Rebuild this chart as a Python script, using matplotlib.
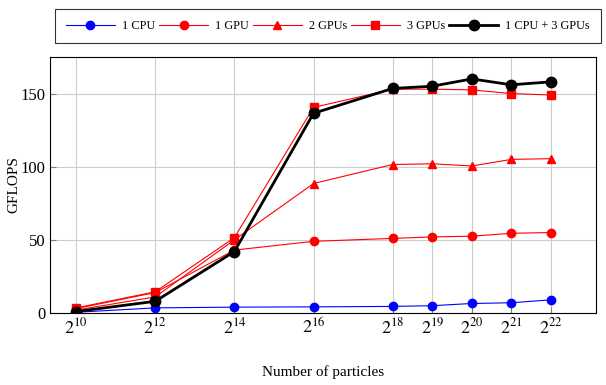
import numpy as np
import matplotlib.pyplot as plt

plt.rcParams['font.family'] = ['Liberation Serif', 'DejaVu Serif']
plt.rcParams['mathtext.fontset'] = 'stix'

# - DATA - #
exps = [10, 12, 14, 16, 18, 19, 20, 21, 22]
cpu1 = [0.5, 3.5, 4.0, 4.2, 4.5, 5.0, 6.5, 7.0, 9.0]
gpu1 = [3.0, 14.0, 43.0, 49.0, 51.0, 52.0, 52.5, 54.5, 55.0]
gpu2 = [2.0, 11.0, 50.0, 88.5, 101.5, 102.0, 100.5, 105.0, 105.5]
gpu3 = [3.5, 14.5, 51.5, 140.5, 153.0, 153.0, 152.5, 150.0, 149.0]
cpu1_gpu3 = [1.0, 8.0, 42.0, 136.5, 153.5, 155.0, 160.0, 156.0, 158.0]

x = [2**e for e in exps]

fig = plt.figure(figsize=(6.06, 3.85), dpi=100)
ax = fig.add_axes([0.0825, 0.187, 0.901, 0.665])

ax.plot(x, cpu1, color='blue', lw=0.8, marker='o', ms=6, label='1 CPU')
ax.plot(x, gpu1, color='red', lw=0.8, marker='o', ms=6, label='1 GPU')
ax.plot(x, gpu2, color='red', lw=0.8, marker='^', ms=6, label='2 GPUs')
ax.plot(x, gpu3, color='red', lw=0.8, marker='s', ms=6, label='3 GPUs')
ax.plot(x, cpu1_gpu3, color='black', lw=2, marker='o', ms=7.5, label='1 CPU + 3 GPUs')

ax.set_xscale('log', base=2)
ax.set_xlim(2**9.34, 2**23.14)
ax.set_ylim(0, 175)
ax.set_xticks(x)
ax.set_xticklabels([r'$2^{%d}$' % e for e in exps], fontsize=13)
ax.minorticks_off()
ax.set_yticks([0, 50, 100, 150])
ax.tick_params(axis='y', labelsize=12)
ax.tick_params(direction='in', length=4, color='0.5')
ax.grid(True, color='0.8', lw=0.8)
ax.set_axisbelow(True)

ax.set_xlabel('Number of particles', fontsize=11, labelpad=20)
ax.set_ylabel('GFLOPS', fontsize=11, labelpad=0)

leg = fig.legend(loc='upper center', bbox_to_anchor=(328 / 606, 1 - 3 / 385), ncol=5,
                 fontsize=8.8, frameon=True, fancybox=False, edgecolor='black',
                 handlelength=4.0, columnspacing=0.3, handletextpad=0.6,
                 borderpad=0.9)
leg.get_frame().set_linewidth(0.8)

plt.savefig('out.png', dpi=100)
